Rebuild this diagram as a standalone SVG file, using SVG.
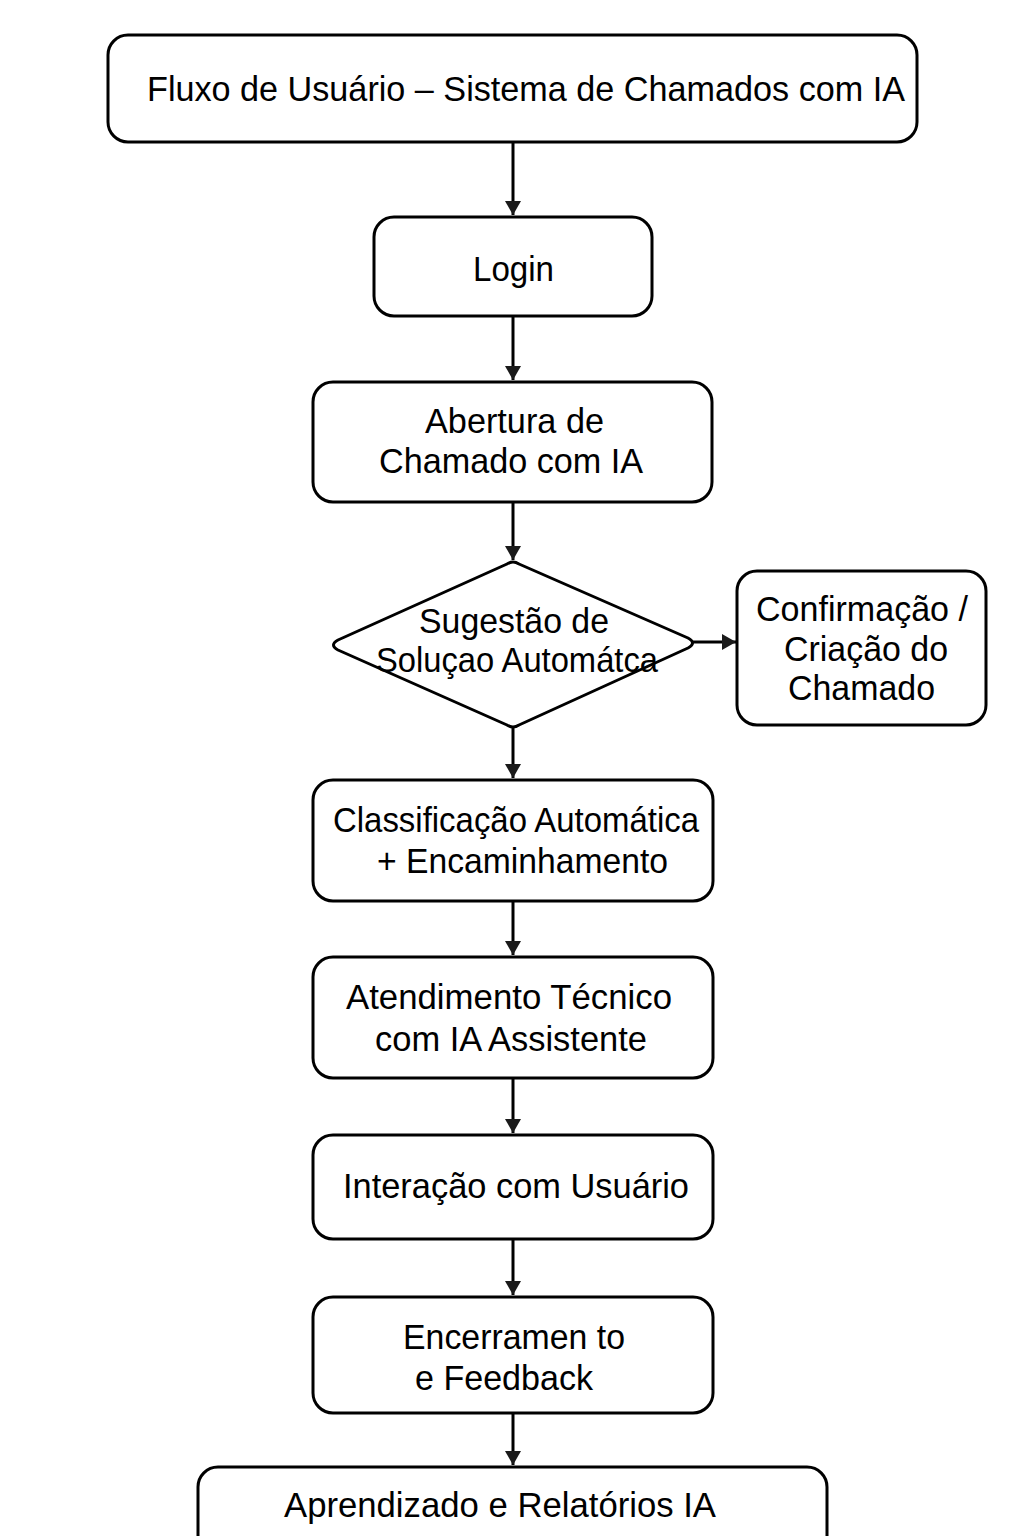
<svg xmlns="http://www.w3.org/2000/svg" width="1024" height="1536" viewBox="0 0 1024 1536">
<style>
.box{fill:#fff;stroke:#000;stroke-width:3}
.t{font-family:"Liberation Sans",Arial,sans-serif;font-size:35px;fill:#000}
.c{text-anchor:middle}
.edge{stroke:#000;stroke-width:3;fill:none;marker-end:url(#ah)}
</style>
<defs>
<marker id="ah" viewBox="0 0 14 16" refX="14" refY="8" markerWidth="14" markerHeight="16" markerUnits="userSpaceOnUse" orient="auto">
<path d="M0,0 L14,8 L0,16 z" fill="#1a1a1a"/>
</marker>
</defs>
<rect width="1024" height="1536" fill="#fff"/>
<g id="connectors">
<line class="edge" x1="513" y1="142" x2="513" y2="215"/>
<line class="edge" x1="513" y1="316" x2="513" y2="380"/>
<line class="edge" x1="513" y1="502" x2="513" y2="560"/>
<line class="edge" x1="693" y1="642" x2="736" y2="642"/>
<line class="edge" x1="513" y1="728" x2="513" y2="778"/>
<line class="edge" x1="513" y1="901" x2="513" y2="955"/>
<line class="edge" x1="513" y1="1078" x2="513" y2="1133"/>
<line class="edge" x1="513" y1="1239" x2="513" y2="1295"/>
<line class="edge" x1="513" y1="1413" x2="513" y2="1465"/>
</g>
<g id="title">
<rect class="box" x="108" y="35" width="809" height="107" rx="20"/>
<text class="t" x="147" y="101" textLength="758" lengthAdjust="spacingAndGlyphs">Fluxo de Usuário – Sistema de Chamados com IA</text>
</g>
<g id="login">
<rect class="box" x="374" y="217" width="278" height="99" rx="20"/>
<text class="t" x="473" y="281" textLength="81" lengthAdjust="spacingAndGlyphs">Login</text>
</g>
<g id="abertura">
<rect class="box" x="313" y="382" width="399" height="120" rx="20"/>
<text class="t" x="425" y="433" textLength="179" lengthAdjust="spacingAndGlyphs">Abertura de</text>
<text class="t" x="379" y="473" textLength="264" lengthAdjust="spacingAndGlyphs">Chamado com IA</text>
</g>
<g id="sugestao">
<path class="box" stroke-linejoin="round" d="M507,564 Q513,560 519,564 L688,638 Q697,643 688,648 L519,725 Q513,729 507,725 L338,650 Q329,645 338,640 Z"/>
<text class="t" x="419" y="633" textLength="190" lengthAdjust="spacingAndGlyphs">Sugestão de</text>
<text class="t" x="376" y="672" textLength="282" lengthAdjust="spacingAndGlyphs">Soluçao Automátca</text>
</g>
<g id="confirmacao">
<rect class="box" x="737" y="571" width="249" height="154" rx="20"/>
<text class="t" x="756" y="621" textLength="212" lengthAdjust="spacingAndGlyphs">Confirmação /</text>
<text class="t" x="784" y="661" textLength="164" lengthAdjust="spacingAndGlyphs">Criação do</text>
<text class="t" x="788" y="700" textLength="147" lengthAdjust="spacingAndGlyphs">Chamado</text>
</g>
<g id="classificacao">
<rect class="box" x="313" y="780" width="400" height="121" rx="20"/>
<text class="t" x="333" y="832" textLength="366" lengthAdjust="spacingAndGlyphs">Classificação Automática</text>
<text class="t" x="377" y="873" textLength="291" lengthAdjust="spacingAndGlyphs">+ Encaminhamento</text>
</g>
<g id="atendimento">
<rect class="box" x="313" y="957" width="400" height="121" rx="20"/>
<text class="t" x="346" y="1009" textLength="326" lengthAdjust="spacingAndGlyphs">Atendimento Técnico</text>
<text class="t" x="375" y="1051" textLength="272" lengthAdjust="spacingAndGlyphs">com IA Assistente</text>
</g>
<g id="interacao">
<rect class="box" x="313" y="1135" width="400" height="104" rx="20"/>
<text class="t" x="343" y="1198" textLength="346" lengthAdjust="spacingAndGlyphs">Interação com Usuário</text>
</g>
<g id="encerramento">
<rect class="box" x="313" y="1297" width="400" height="116" rx="20"/>
<text class="t" x="403" y="1349" textLength="222" lengthAdjust="spacingAndGlyphs">Encerramen to</text>
<text class="t" x="415" y="1390" textLength="178" lengthAdjust="spacingAndGlyphs">e Feedback</text>
</g>
<g id="aprendizado">
<rect class="box" x="198" y="1467" width="629" height="100" rx="20"/>
<text class="t" x="284" y="1517" textLength="432" lengthAdjust="spacingAndGlyphs">Aprendizado e Relatórios IA</text>
</g>
</svg>
